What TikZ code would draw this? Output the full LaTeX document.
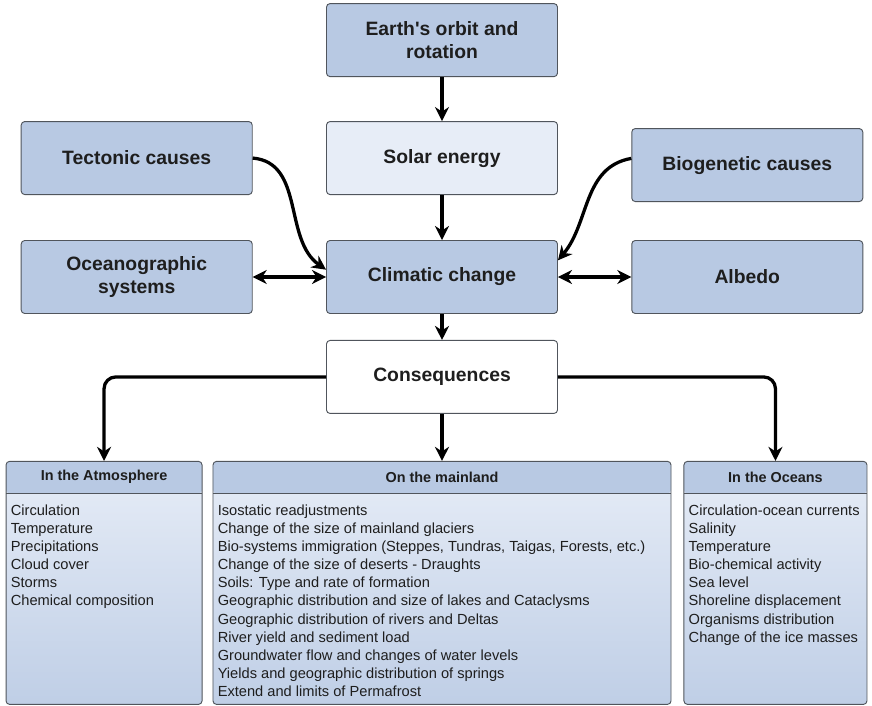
\documentclass[tikz,border=0pt]{standalone}
\usepackage{fontspec}
\setmainfont{Liberation Sans}
\usetikzlibrary{arrows.meta,positioning}

\definecolor{boxblue}{HTML}{B8C9E3}
\definecolor{paleblue}{HTML}{E7EDF7}
\definecolor{edgegray}{HTML}{50555C}
\definecolor{txtgray}{HTML}{1E1E1E}

\begin{document}
\begin{tikzpicture}[
    x = 0.03cm, y = -0.03cm, % one unit = one pixel of the sketch
    > = {Stealth[length=12pt, width=12pt]}, % arrow head style
    cause/.style = {draw = edgegray, thick, fill = boxblue, rounded corners = 3pt,
        minimum width = 6.93cm, minimum height = 2.19cm, align = center,
        text = txtgray, font = \bfseries\fontsize{16.5}{19}\selectfont},
    link/.style = {line width = 2.8pt, black},
    panel/.style = {draw = edgegray, thick, rounded corners = 3pt,
        top color = paleblue, bottom color = boxblue!85!paleblue,
        minimum height = 7.29cm,
        path picture = {
            \fill[boxblue] (path picture bounding box.north west) rectangle
                ([yshift=-0.96cm]path picture bounding box.north east);
            \draw[edgegray, thick] ([yshift=-0.96cm]path picture bounding box.north west) --
                ([yshift=-0.96cm]path picture bounding box.north east);
        }},
    headtext/.style = {inner sep = 0pt, minimum height = 0.96cm, text = txtgray,
        font = \bfseries\fontsize{12.3}{14}\selectfont},
    items/.style = {anchor = north west, align = left, inner sep = 0pt, text = txtgray,
        font = \fontsize{12.5}{15.5}\selectfont}
    ]
    \useasboundingbox (0,0) rectangle (872,706);

    % causes
    \node[cause] (clim) at (442,277) {Climatic change};
    \node[cause, fill = paleblue] (solar) [above=1.35cm of clim] {Solar energy};
    \node[cause] (orbit) [above=1.32cm of solar] {Earth\textquotesingle s orbit and\\rotation};
    \node[cause] (tect) [left=2.2cm of solar] {Tectonic causes};
    \node[cause] (bio) [right=2.2cm of solar, yshift=-0.21cm] {Biogenetic causes};
    \node[cause] (ocean) [left=2.2cm of clim] {Oceanographic\\systems};
    \node[cause] (albedo) [right=2.2cm of clim] {Albedo};
    \node[cause, fill = white] (cons) [below=0.78cm of clim] {Consequences};

    % consequences
    \node[panel, minimum width = 13.74cm] (land) [below=1.41cm of cons] {};
    \node[panel, minimum width = 5.88cm] (atmos) [left=0.3cm of land] {};
    \node[panel, minimum width = 5.49cm] (sea) [right=0.36cm of land] {};

    \node[headtext, below=0pt of atmos.north] (atmoshead) {In the Atmosphere};
    \node[headtext, below=0pt of land.north] (landhead) {On the mainland};
    \node[headtext, below=0pt of sea.north] (seahead) {In the Oceans};

    \node[items] (atmoslist) at ([shift={(0.15cm,-1.3cm)}]atmos.north west) {%
        Circulation\\Temperature\\Precipitations\\Cloud cover\\Storms\\Chemical composition};
    \node[items] (landlist) at ([shift={(0.15cm,-1.3cm)}]land.north west) {%
        Isostatic readjustments\\
        Change of the size of mainland glaciers\\
        Bio-systems immigration (Steppes, Tundras, Taigas, Forests, etc.)\\
        Change of the size of deserts - Draughts\\
        Soils: Type and rate of formation\\
        Geographic distribution and size of lakes and Cataclysms\\
        Geographic distribution of rivers and Deltas\\
        River yield and sediment load\\
        Groundwater flow and changes of water levels\\
        Yields and geographic distribution of springs\\
        Extend and limits of Permafrost};
    \node[items] (sealist) at ([shift={(0.15cm,-1.3cm)}]sea.north west) {%
        Circulation-ocean currents\\Salinity\\Temperature\\Bio-chemical activity\\
        Sea level\\Shoreline displacement\\Organisms distribution\\Change of the ice masses};

    \draw[link, ->] (orbit) -- (solar);
    \draw[link, ->] (solar) -- (clim);
    \draw[link, ->] (tect.east) to[out=-5, in=145] ([yshift=0.22cm]clim.west);
    \draw[link, ->] ([yshift=0.2cm]bio.west) to[out=190, in=50] ([yshift=0.5cm]clim.east);
    \draw[link, <->] (ocean) -- (clim);
    \draw[link, <->] (clim) -- (albedo);
    \draw[link, ->] (clim) -- (cons);
    \draw[link, ->] (cons) -- (land);
    \draw[link, ->, rounded corners = 10pt] (cons.west) -| (atmos);
    \draw[link, ->, rounded corners = 10pt] (cons.east) -| (sea);
\end{tikzpicture}
\end{document}
